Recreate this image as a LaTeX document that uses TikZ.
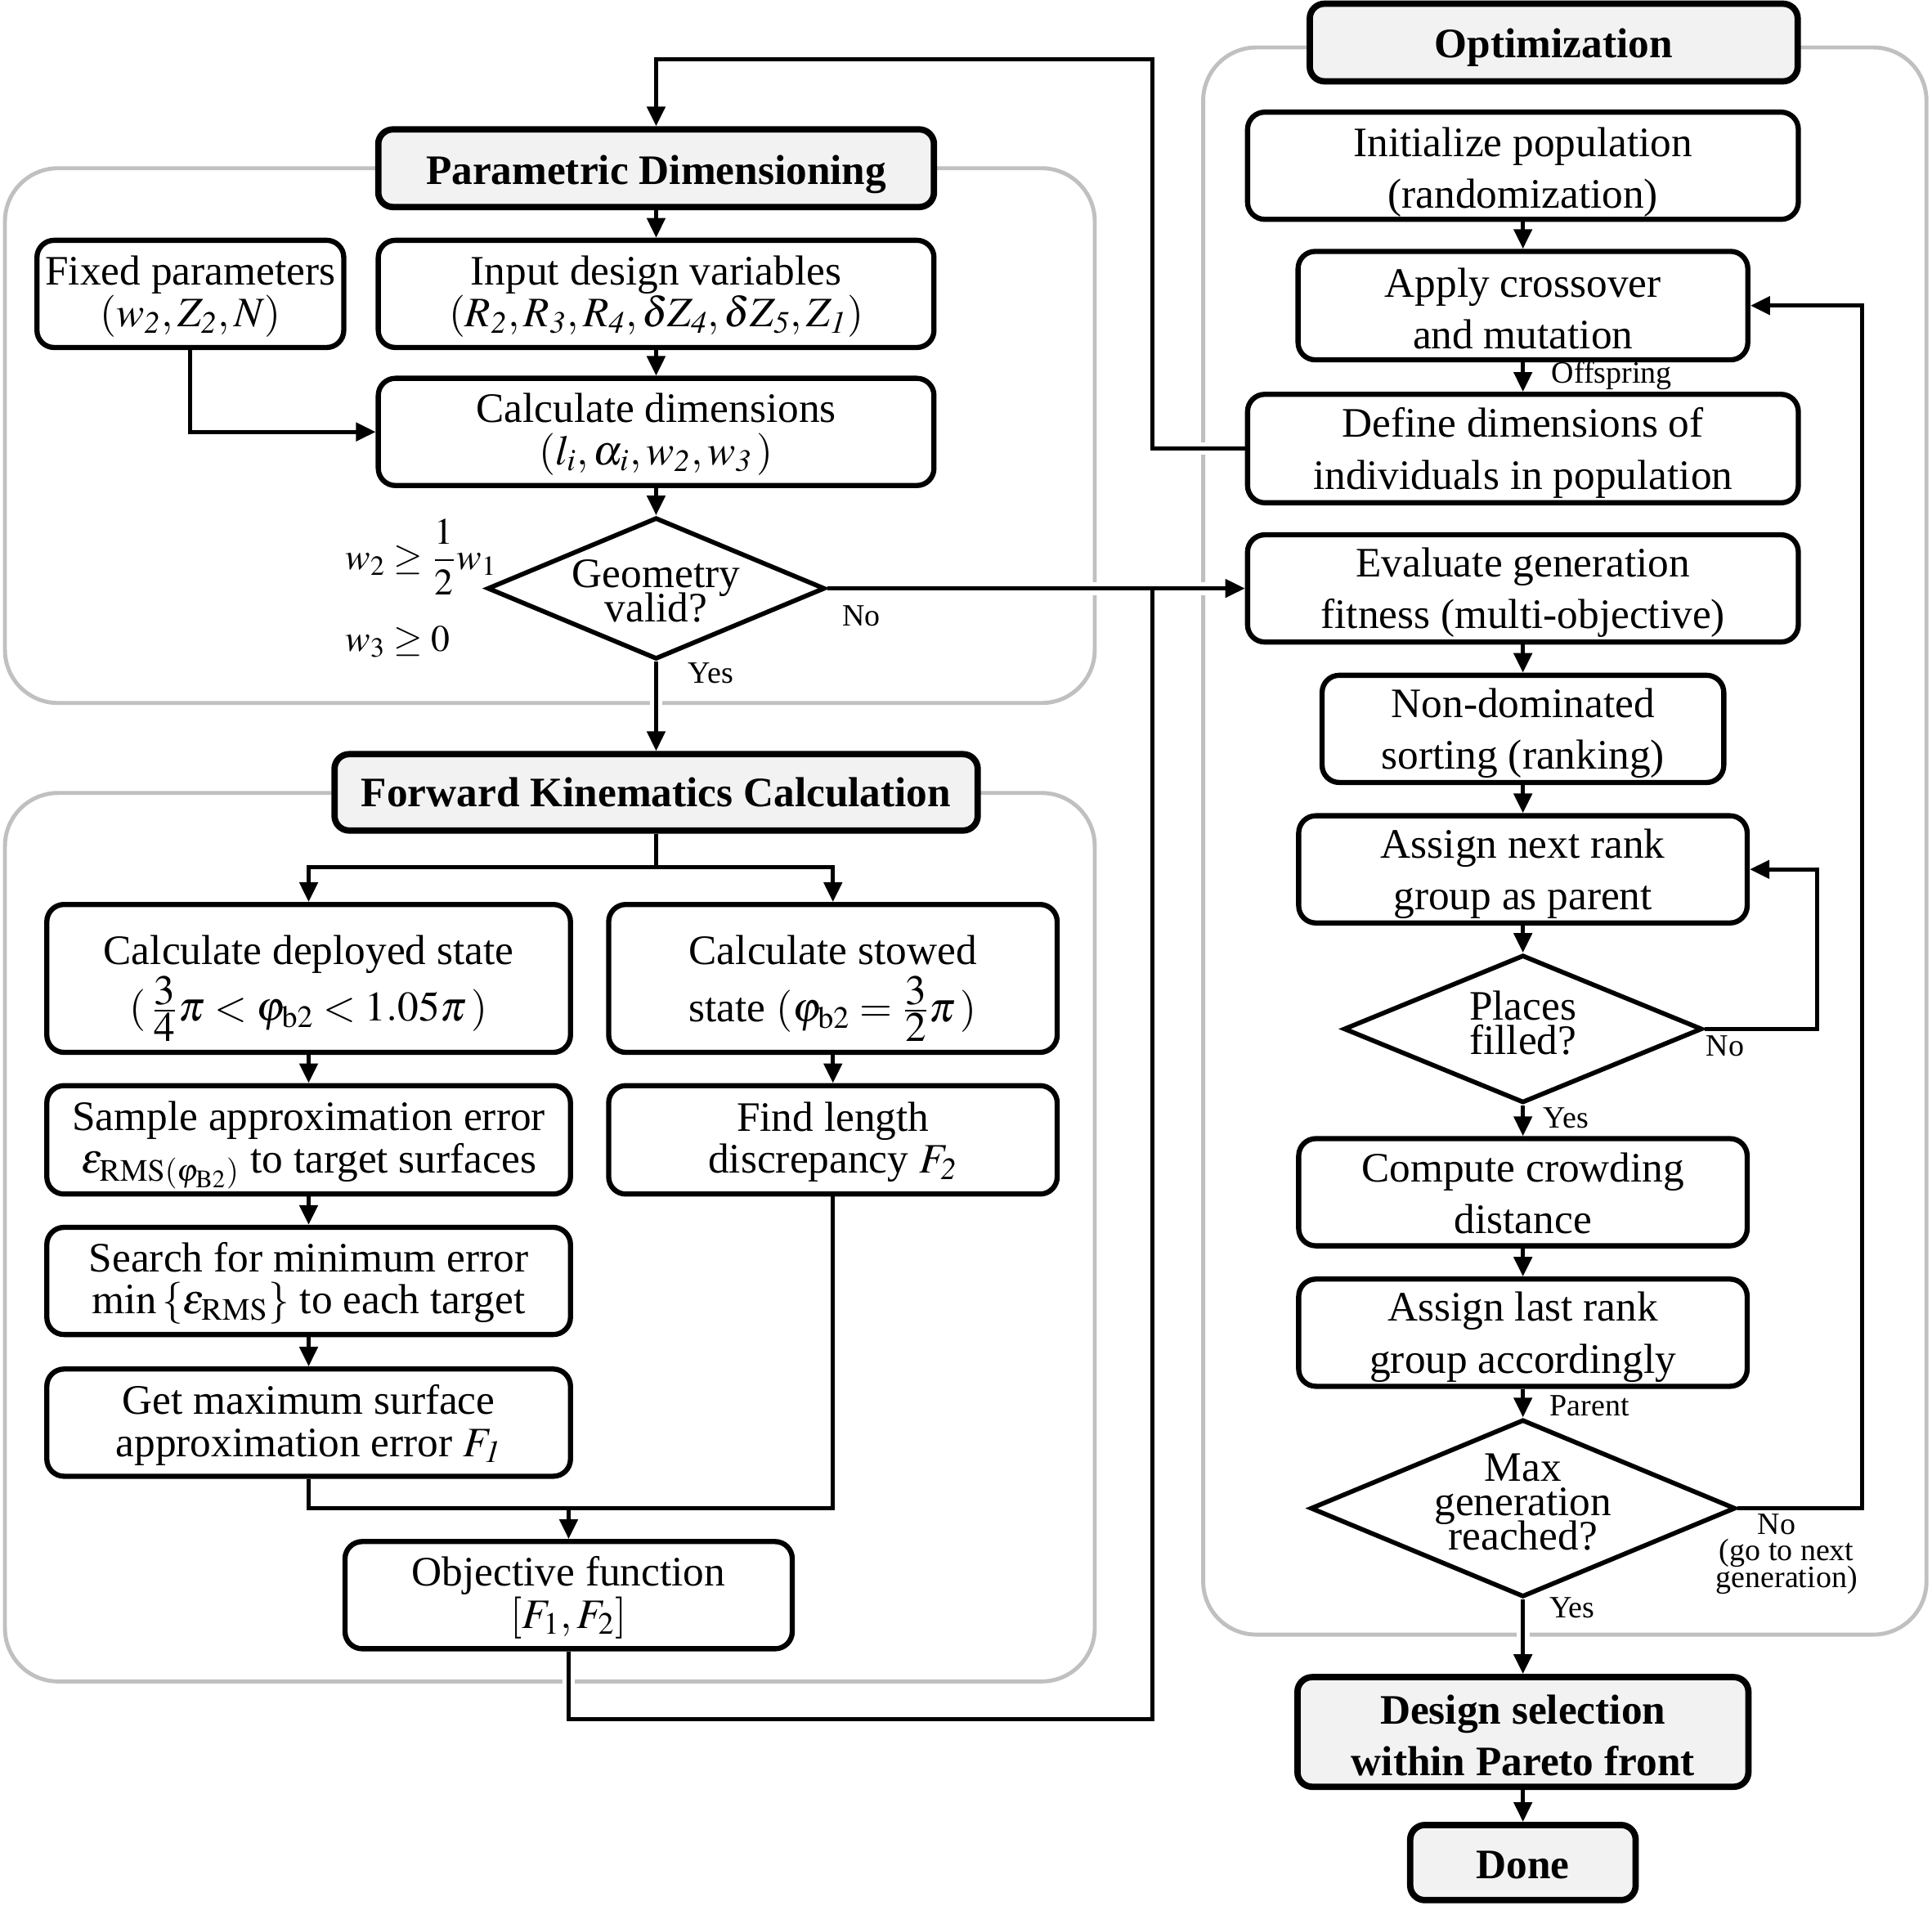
\documentclass[tikz,border=0pt]{standalone}
\usepackage{mathptmx}
\usepackage{fontspec}
\setmainfont{Liberation Serif}
\usetikzlibrary{shapes.geometric,arrows.meta}
\pgfdeclarelayer{bg}
\pgfdeclarelayer{mid}
\pgfsetlayers{bg,mid,main}
\definecolor{hdrfill}{HTML}{F2F2F2}
\definecolor{grpgray}{HTML}{C0C0C0}
\newcommand{\tightls}{\lineskiplimit=-\maxdimen\lineskip=0pt\relax}
\newcommand{\tfr}[2]{\frac{\textstyle #1}{\textstyle #2}}
\begin{document}
\begin{tikzpicture}[x=0.1507mm,y=-0.1507mm,
  sz/.style 2 args={minimum width=#1*0.1507mm, minimum height=#2*0.1507mm},
  box/.style={draw, rounded corners=2.1mm, line width=1.8pt, fill=white, inner sep=0pt},
  hdr/.style={box, rounded corners=1.8mm, line width=2.2pt, fill=hdrfill},
  btxt/.style={align=center, inner sep=0pt, font=\fontsize{14.6}{18}\selectfont, yshift=-0.53mm},
  ltxt/.style={btxt, font=\fontsize{14.6}{14.6}\selectfont, yshift=0.23mm},
  htxt/.style={btxt, font=\bfseries\fontsize{14.6}{18}\selectfont},
  dec/.style={diamond, draw, line width=1.6pt, inner sep=0pt, fill=white},
  dtxt/.style={align=center, inner sep=0pt, font=\fontsize{14.6}{12}\selectfont, execute at begin node=\tightls},
  grp/.style={draw=grpgray, line width=1.4pt, rounded corners=6.5mm},
  ln/.style={line width=1.4pt},
  arr/.style={ln, -{Triangle[length=2.4mm,width=2.2mm]}},
  gap/.style={preaction={draw=white, line width=4.5pt}},
  lab/.style={inner sep=0pt, font=\fontsize{10.8}{11}\selectfont},
  cond/.style={inner sep=0pt, anchor=west, font=\fontsize{13}{14}\selectfont}
]
\useasboundingbox (0,0) rectangle (1568,1554);

% ---------- left column ----------
\node[hdr, sz={451}{63}, label={[htxt, yshift=-0.22mm, name=pdt]center:{Parametric Dimensioning}}] (pd) at (532.5,136.5) {};
\node[box, sz={249}{87}, label={[ltxt, name=fixedt]center:{Fixed parameters\\$(w_{\mathit{2}}, Z_{\mathit{2}}, N)$}}] (fixed) at (154.5,238.5) {};
\node[box, sz={451}{87}, label={[ltxt, name=inputt]center:{Input design variables\\$(R_{\mathit{2}}, R_{\mathit{3}}, R_{\mathit{4}}, \delta Z_{\mathit{4}}, \delta Z_{\mathit{5}}, Z_{\mathit{1}})$}}] (input) at (532.5,238.5) {};
\node[box, sz={451}{87}, label={[ltxt, name=calct]center:{Calculate dimensions\\$(l_i, \alpha_i, w_{\mathit{2}}, w_{\mathit{3}}\,)$}}] (calc) at (532.5,350.5) {};
\node[dec, sz={274}{115}] (geo) at (532.5,477.5) {};
\node[dtxt] (geot) at (532.5,479.5) {Geometry\\valid?};
\node[cond] (c1) at (280,452) {$w_2 \ge {\displaystyle\frac{1}{2}}w_1$};
\node[cond] (c2) at (280,521) {$w_3 \ge 0$};
\node[lab] (no1) at (699,500) {No};
\node[lab] (yes1) at (577,546) {Yes};

\node[hdr, sz={522}{62}, label={[htxt, yshift=0.53mm, name=fkt]center:{Forward Kinematics Calculation}}] (fk) at (532.5,643) {};
\node[box, sz={425}{120}, label={[ltxt, yshift=-0.9mm, name=dept]center:{Calculate deployed state\\$(\,\tfr{3}{4}\pi < \varphi_{\mathrm{b2}} < 1.05\pi\,)$}}] (dep) at (250.5,794) {};
\node[box, sz={364}{120}, label={[ltxt, yshift=-0.9mm, name=stowt]center:{Calculate stowed\\[3.2pt]state $(\varphi_{\mathrm{b2}} = \tfr{3}{2}\pi\,)$}}] (stow) at (676,794) {};
\node[box, sz={425}{88}, label={[ltxt, yshift=-0.38mm, name=sampt]center:{Sample approximation error\\$\varepsilon_{\mathrm{RMS}(\varphi_{\mathrm{B2}})}$ to target surfaces}}] (samp) at (250.5,925) {};
\node[box, sz={364}{88}, label={[ltxt, name=findt]center:{Find length\\discrepancy $F_{\mathit{2}}$}}] (find) at (676,925) {};
\node[box, sz={425}{87}, label={[ltxt, name=srcht]center:{Search for minimum error\\$\min\left\{\varepsilon_{\mathrm{RMS}}\right\}$ to each target}}] (srch) at (250.5,1039.5) {};
\node[box, sz={425}{87}, label={[ltxt, name=getmaxt]center:{Get maximum surface\\approximation error $F_{\mathit{1}}$}}] (getmax) at (250.5,1154.5) {};
\node[box, sz={363}{87}, label={[ltxt, name=objt]center:{Objective function\\$[F_1, F_2]$}}] (obj) at (461.5,1294.5) {};

% ---------- right column ----------
\node[hdr, sz={396}{63}, label={[htxt, yshift=-0.07mm, name=optt]center:{Optimization}}] (opt) at (1261,34.5) {};
\node[box, sz={447}{87}, label={[btxt, yshift=-0.3mm, name=initt]center:{Initialize population\\(randomization)}}] (init) at (1236,134.5) {};
\node[box, sz={365}{88}, label={[btxt, yshift=0.15mm, name=crosst]center:{Apply crossover\\and mutation}}] (cross) at (1236,248) {};
\node[box, sz={447}{88}, label={[btxt, name=defdt]center:{Define dimensions of\\individuals in population}}] (defd) at (1236,364) {};
\node[box, sz={447}{87}, label={[btxt, name=evalt]center:{Evaluate generation\\fitness (multi-objective)}}] (eval) at (1236,477.5) {};
\node[box, sz={326}{87}, label={[btxt, name=ndst]center:{Non-dominated\\sorting (ranking)}}] (nds) at (1236,591.5) {};
\node[box, sz={364}{87}, label={[btxt, name=anrt]center:{Assign next rank\\group as parent}}] (anr) at (1236,705.5) {};
\node[dec, sz={291}{120}] (pf) at (1236,835) {};
\node[dtxt] (pft) at (1236,830) {Places\\filled?};
\node[box, sz={364}{87}, label={[btxt, yshift=0.38mm, name=ccdt]center:{Compute crowding\\distance}}] (ccd) at (1236,967.5) {};
\node[box, sz={364}{87}, label={[btxt, name=alrt]center:{Assign last rank\\group accordingly}}] (alr) at (1236,1081.5) {};
\node[dec, sz={345}{144}] (mg) at (1236,1224) {};
\node[dtxt] (mgt) at (1236,1219) {Max\\generation\\reached?};
\node[hdr, sz={366}{89}, label={[htxt, yshift=0.13mm, name=dst]center:{Design selection\\within Pareto front}}] (ds) at (1236,1405.5) {};
\node[hdr, sz={183}{61}, label={[htxt, yshift=0.23mm, name=donet]center:{Done}}] (done) at (1236,1511.5) {};

\node[lab] (off) at (1308,305) {Offspring};
\node[lab] (no2) at (1400,849) {No};
\node[lab] (yes2) at (1271,907) {Yes};
\node[lab] (par) at (1290,1141) {Parent};
\node[lab, align=center, font=\fontsize{10.8}{9.2}\selectfont, execute at begin node=\tightls] (no3) at (1450,1261) {No\hspace*{7pt}\\(go to next\\generation)};
\node[lab] (yes3) at (1276,1305) {Yes};

% ---------- groups ----------
\begin{pgfonlayer}{bg}
\draw[grp] (4,136.5) rectangle (888.5,570.5);
\draw[grp] (4,643.5) rectangle (888.5,1364.5);
\draw[grp] (976.5,38.5) rectangle (1563.5,1326.5);
\end{pgfonlayer}

% ---------- connectors ----------
\begin{pgfonlayer}{mid}
\draw[arr] (pd) -- (input);
\draw[arr] (input) -- (calc);
\draw[arr] (fixed.south) |- (calc.west);
\draw[arr] (calc) -- (geo);
\draw[arr, gap] (geo.south) -- (fk.north);
\coordinate (jn) at (935,477.5);
\coordinate (bl) at (935,1395);
\coordinate (tl) at (935,48);
\draw[arr, gap] (geo.east) -- (eval.west);
\draw[white, line width=4.5pt] (obj.south) -- (obj.south |- bl);
\draw[ln] (obj.south) |- (bl) -- (jn);
\draw[arr, gap] (defd.west) -| (tl) -| (pd.north);
\coordinate (fks) at (532.5,704);
\draw[arr] (fk.south) -- (fks) -| (dep.north);
\draw[arr] (fks) -| (stow.north);
\draw[arr] (dep) -- (samp);
\draw[arr] (samp) -- (srch);
\draw[arr] (srch) -- (getmax);
\draw[arr] (stow) -- (find);
\coordinate (jb) at (461.5,1224);
\draw[ln] (getmax.south) |- (jb);
\draw[ln] (find.south) |- (jb);
\draw[arr] (jb) -- (obj.north);

\draw[arr] (init) -- (cross);
\draw[arr] (cross) -- (defd);
\draw[arr] (eval) -- (nds);
\draw[arr] (nds) -- (anr);
\draw[arr] (anr) -- (pf);
\coordinate (pfr) at (1475,835);
\draw[arr] (pf.east) -- (pfr) |- (anr.east);
\draw[arr] (pf) -- (ccd);
\draw[arr] (ccd) -- (alr);
\draw[arr] (alr) -- (mg);
\coordinate (mgr) at (1511,1224);
\draw[arr] (mg.east) -- (mgr) |- (cross.east);
\draw[arr, gap] (mg) -- (ds);
\draw[arr] (ds) -- (done);
\end{pgfonlayer}
\end{tikzpicture}
\end{document}
